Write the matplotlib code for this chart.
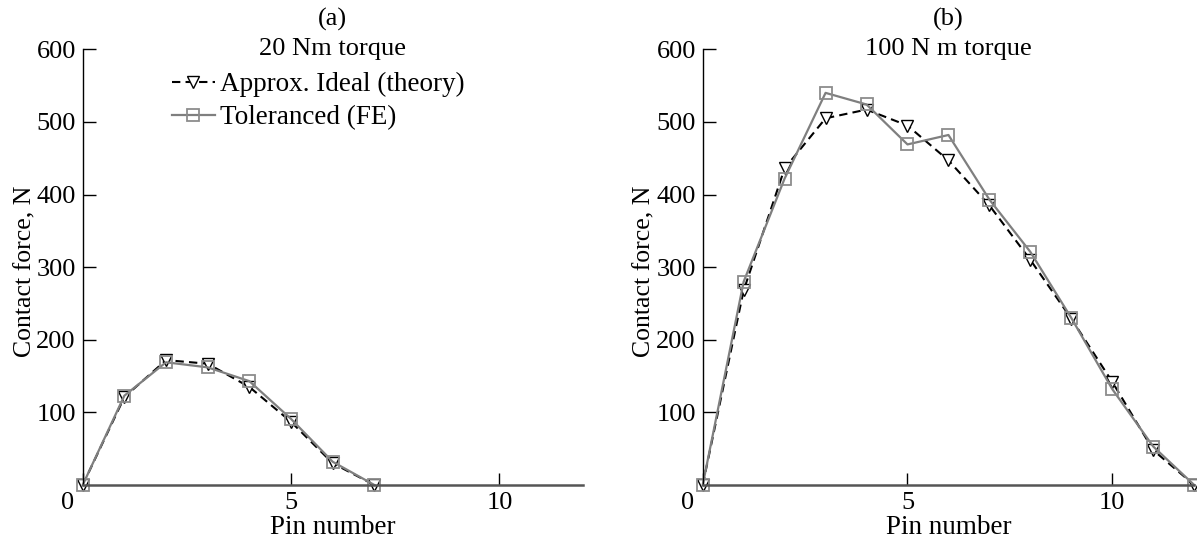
import matplotlib
matplotlib.use('Agg')
import matplotlib.pyplot as plt
import matplotlib.transforms as mtransforms

plt.rcParams['font.family'] = ['Liberation Serif', 'DejaVu Serif']
plt.rcParams['font.size'] = 19

# panel (a): 20 Nm torque
pins_a = [0, 1, 2, 3, 4, 5, 6, 7]
theory_a = [0, 121, 172, 167, 135, 87, 30, 0]
fe_a = [0, 123, 169, 162, 143, 91, 32, 0]

# panel (b): 100 N m torque
pins_b = [0, 1, 2, 3, 4, 5, 6, 7, 8, 9, 10, 11, 12]
theory_b = [0, 268, 436, 505, 517, 495, 447, 385, 310, 229, 142, 48, 0]
fe_b = [0, 280, 422, 540, 524, 469, 482, 393, 321, 230, 132, 53, 0]

panels = [
    ('(a)', '20 Nm torque', pins_a, theory_a, fe_a, True),
    ('(b)', '100 N m torque', pins_b, theory_b, fe_b, False),
]

fig = plt.figure(figsize=(11.97, 5.5), dpi=100)
ax_a = fig.add_axes([82.7 / 1197, 65 / 550, 500 / 1197, 435.7 / 550])
ax_b = fig.add_axes([702.7 / 1197, 65 / 550, 491.5 / 1197, 435.7 / 550])

for ax, (tag, sub, pins, theory, fe, show_legend) in zip([ax_a, ax_b], panels):
    ax.plot(pins, theory, color='black', lw=1.5, linestyle=(0, (4, 2.5)),
            marker='v', markersize=8, markerfacecolor='white',
            markeredgecolor='black', markeredgewidth=1.0,
            label='Approx. Ideal (theory)', clip_on=False)
    ax.plot(pins, fe, color='#7f7f7f', lw=1.6,
            marker='s', markersize=8, markerfacecolor='none',
            markeredgecolor='#8c8c8c', markeredgewidth=1.3,
            label='Toleranced (FE)', clip_on=False)

    ax.set_xlim(0, 12)
    ax.set_ylim(0, 600)
    ax.set_xticks([0, 5, 10])
    ax.set_yticks([100, 200, 300, 400, 500, 600])
    ax.tick_params(direction='in', length=9, width=1.0, pad=5, labelsize=19)

    ax.spines['top'].set_visible(False)
    ax.spines['right'].set_visible(False)
    ax.spines['left'].set_color('black')
    ax.spines['left'].set_linewidth(1.0)
    ax.spines['bottom'].set_color('#555555')
    ax.spines['bottom'].set_linewidth(1.8)

    # shift the origin label "0" to the left of the y axis
    offset = mtransforms.ScaledTranslation(-15 / 100, 0, fig.dpi_scale_trans)
    lbl = ax.get_xticklabels()[0]
    lbl.set_transform(lbl.get_transform() + offset)

    ax.set_xlabel('Pin number', fontsize=19.5)
    ax.xaxis.set_label_coords(0.5, -0.07)
    ax.set_ylabel('Contact force, N', fontsize=18.5)
    ax.yaxis.set_label_coords(-0.092 if show_legend else -0.097, 0.49)

    ax.text(0.5, 1 + 30 / 435.7, tag, transform=ax.transAxes,
            ha='center', va='center', fontsize=19)
    ax.text(0.5, 1.0, sub, transform=ax.transAxes,
            ha='center', va='center', fontsize=19)

    if show_legend:
        ax.legend(loc='upper left', bbox_to_anchor=(0.178, 0.948),
                  frameon=False, borderpad=0, handlelength=1.6,
                  handletextpad=0.2, labelspacing=0.3, fontsize=19.5,
                  borderaxespad=0)

fig.savefig('out.png', dpi=100)
